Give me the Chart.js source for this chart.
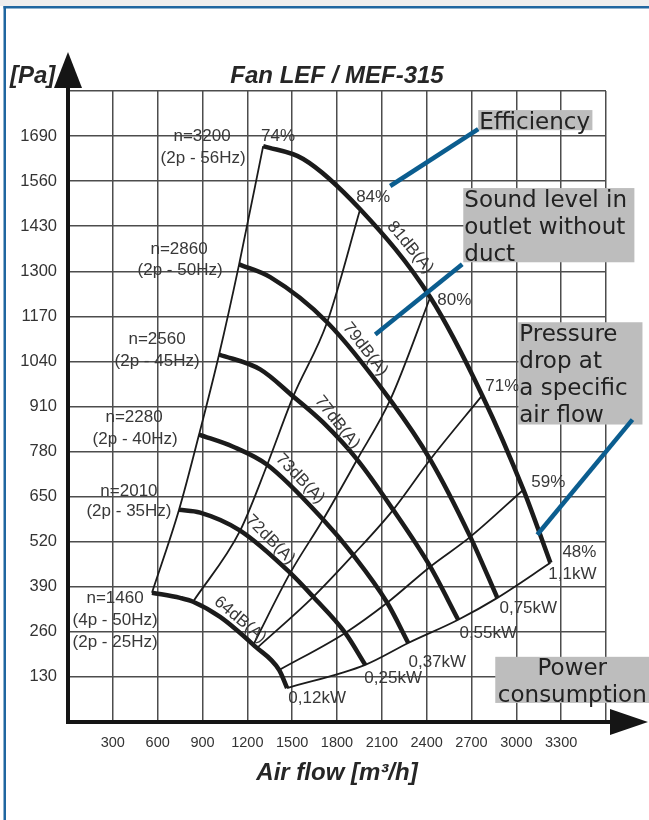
<!DOCTYPE html>
<html>
<head>
<meta charset="utf-8">
<title>Fan LEF / MEF-315</title>
<script src="https://cdn.jsdelivr.net/npm/chart.js@4.4.1/dist/chart.umd.min.js"></script>
<style>
  html, body { margin: 0; padding: 0; background: #fff; }
  canvas { display: block; }
</style>
</head>
<body>
<canvas id="fanChart" width="649" height="820"></canvas>
<script>
// axis ticks: air flow [m3/h] and pressure [Pa]
const flowTicks = [0, 300, 600, 900, 1200, 1500, 1800, 2100, 2400, 2700, 3000, 3300, 3600];
const pressTicks = [0, 130, 260, 390, 520, 650, 780, 910, 1040, 1170, 1300, 1430, 1560, 1690, 1820];

// fan curves per speed (air flow / pressure)
const flow3200 = [1306, 1574, 1955, 2424, 2772, 3047, 3228];
const pres3200 = [1661, 1624, 1479, 1225, 942, 670, 459];
const flow2860 = [1145, 1353, 1734, 2156, 2424, 2692, 2873];
const pres2860 = [1320, 1283, 1153, 929, 757, 534, 358];
const flow2560 = [1011, 1286, 1507, 1707, 1935, 2176, 2424, 2611];
const pres2560 = [1060, 1017, 939, 864, 757, 612, 448, 295];
const flow2280 = [877, 1105, 1333, 1707, 1908, 2136, 2277];
const pres2280 = [829, 794, 742, 584, 482, 344, 228];
const flow2010 = [743, 884, 1152, 1487, 1641, 1855, 1989];
const pres2010 = [612, 604, 552, 430, 361, 257, 165];
const flow1460 = [562, 750, 837, 1018, 1252, 1413, 1466];
const pres1460 = [373, 358, 347, 303, 218, 150, 98];

// efficiency lines
const flowEff74 = [562, 743, 877, 1011, 1145, 1306];
const presEff74 = [373, 612, 829, 1060, 1320, 1661];
const flowEff84 = [837, 1152, 1333, 1507, 1734, 1955];
const presEff84 = [347, 552, 742, 939, 1153, 1479];
const flowEff80 = [1239, 1487, 1707, 1935, 2156, 2424];
const presEff80 = [222, 430, 584, 757, 929, 1225];
const flowEff71 = [1266, 1641, 1908, 2176, 2424, 2772];
const presEff71 = [214, 361, 482, 612, 757, 942];
const flowEff59 = [1413, 1855, 2136, 2424, 2692, 3047];
const presEff59 = [150, 257, 344, 448, 534, 670];
const flowEff48 = [1466, 1989, 2277, 2611, 2873, 3228];
const presEff48 = [98, 165, 228, 295, 358, 459];

function pts(qs, ps) {
    return qs.map((q, i) => ({ x: q, y: ps[i] }));
}

const fanCurves = [
    [flow3200, pres3200], [flow2860, pres2860], [flow2560, pres2560],
    [flow2280, pres2280], [flow2010, pres2010], [flow1460, pres1460]
];
const effLines = [
    [flowEff74, presEff74], [flowEff84, presEff84], [flowEff80, presEff80],
    [flowEff71, presEff71], [flowEff59, presEff59], [flowEff48, presEff48]
];

// text on the curves, placed in data units
const curveLabels = [
    { t: 'n=3200', q: 897, p: 1690 }, { t: '(2p - 56Hz)', q: 904, p: 1627 },
    { t: 'n=2860', q: 743, p: 1364 }, { t: '(2p - 50Hz)', q: 750, p: 1303 },
    { t: 'n=2560', q: 596, p: 1104 }, { t: '(2p - 45Hz)', q: 596, p: 1040 },
    { t: 'n=2280', q: 442, p: 878 }, { t: '(2p - 40Hz)', q: 449, p: 815 },
    { t: 'n=2010', q: 408, p: 664 }, { t: '(2p - 35Hz)', q: 408, p: 607 },
    { t: 'n=1460', q: 315, p: 358 }, { t: '(4p - 50Hz)', q: 315, p: 292 },
    { t: '(2p - 25Hz)', q: 315, p: 231 },
    { t: '74%', q: 1406, p: 1690 }, { t: '84%', q: 2042, p: 1514 },
    { t: '80%', q: 2585, p: 1216 }, { t: '71%', q: 2906, p: 968 },
    { t: '59%', q: 3214, p: 690 }, { t: '48%', q: 3422, p: 488 },
    { t: '1,1kW', q: 3375, p: 425 }, { t: '0,75kW', q: 3080, p: 329 },
    { t: '0,55kW', q: 2812, p: 257 }, { t: '0,37kW', q: 2471, p: 173 },
    { t: '0,25kW', q: 2176, p: 127 }, { t: '0,12kW', q: 1667, p: 69 },
    { t: '81dB(A)', q: 2290, p: 1369, a: 50 },
    { t: '79dB(A)', q: 1989, p: 1075, a: 52 },
    { t: '77dB(A)', q: 1801, p: 864, a: 52 },
    { t: '73dB(A)', q: 1553, p: 702, a: 46 },
    { t: '72dB(A)', q: 1353, p: 526, a: 45 },
    { t: '64dB(A)', q: 1152, p: 295, a: 40 }
];

// grey callout boxes with blue leaders: box = [q1, p1, q2, p2]
const callouts = [
    { lines: ['Efficiency'], box: [2745, 1765, 3509, 1707], from: [2156, 1546], to: [2745, 1710] },
    { lines: ['Sound level in', 'outlet without', 'duct'], box: [2645, 1540, 3790, 1326], from: [2056, 1118], to: [2638, 1320] },
    { lines: ['Pressure', 'drop at', 'a specific', 'air flow'], box: [3013, 1153, 3844, 858], from: [3140, 540], to: [3777, 872] },
    { lines: ['Power', 'consumption'], box: [2859, 188, 3890, 55], center: true }
];

const decor = {
    id: 'decor',
    beforeDraw(chart) {
        const ctx = chart.ctx;
        ctx.save();
        ctx.fillStyle = '#ffffff';
        ctx.fillRect(0, 0, chart.width, chart.height);
        ctx.fillStyle = '#eeeeee';
        ctx.fillRect(0, 0, chart.width, 6);
        ctx.fillStyle = '#1f66a0';
        ctx.fillRect(3.5, 6, chart.width, 2.5);
        ctx.fillRect(3.5, 6, 2.5, chart.height);
        ctx.restore();
    },
    afterDatasetsDraw(chart) {
        const ctx = chart.ctx;
        const xs = chart.scales.x, ys = chart.scales.y;
        const X = v => xs.getPixelForValue(v);
        const Y = v => ys.getPixelForValue(v);
        ctx.save();

        // curve labels
        ctx.fillStyle = '#383838';
        ctx.font = '17px "Liberation Sans", Arial, sans-serif';
        ctx.textAlign = 'center';
        ctx.textBaseline = 'middle';
        curveLabels.forEach(l => {
            ctx.save();
            ctx.translate(X(l.q), Y(l.p));
            if (l.a) ctx.rotate(l.a * Math.PI / 180);
            ctx.fillText(l.t, 0, 0);
            ctx.restore();
        });

        // callouts
        callouts.forEach(c => {
            const x1 = X(c.box[0]), y1 = Y(c.box[1]);
            const x2 = X(c.box[2]), y2 = Y(c.box[3]);
            ctx.fillStyle = '#bdbdbd';
            ctx.fillRect(x1, y1, x2 - x1, y2 - y1);
            ctx.fillStyle = '#222222';
            ctx.font = '23px "DejaVu Sans", Verdana, sans-serif';
            ctx.textBaseline = 'alphabetic';
            ctx.textAlign = c.center ? 'center' : 'left';
            const tx = c.center ? (x1 + x2) / 2 : x1 + 1;
            c.lines.forEach((s, i) => ctx.fillText(s, tx, y1 + 18.5 + i * 27));
            if (c.from) {
                ctx.strokeStyle = '#0b5d8f';
                ctx.lineWidth = 4.5;
                ctx.beginPath();
                ctx.moveTo(X(c.from[0]), Y(c.from[1]));
                ctx.lineTo(X(c.to[0]), Y(c.to[1]));
                ctx.stroke();
            }
        });
        ctx.restore();
    },
    afterDraw(chart) {
        const ctx = chart.ctx;
        const { left, right, top, bottom } = chart.chartArea;
        ctx.save();
        ctx.fillStyle = '#151515';
        // x axis arrow
        ctx.fillRect(right, bottom - 2, 6, 4);
        ctx.beginPath();
        ctx.moveTo(right + 4, bottom - 13);
        ctx.lineTo(chart.width - 1, bottom);
        ctx.lineTo(right + 4, bottom + 13);
        ctx.closePath();
        ctx.fill();
        // y axis arrow
        ctx.fillRect(left - 2, top - 5, 4, 7);
        ctx.beginPath();
        ctx.moveTo(left - 14, top - 3);
        ctx.lineTo(left, top - 39);
        ctx.lineTo(left + 14, top - 3);
        ctx.closePath();
        ctx.fill();

        // titles
        ctx.fillStyle = '#262626';
        ctx.font = 'italic bold 24px "Liberation Sans", Arial, sans-serif';
        ctx.textBaseline = 'alphabetic';
        ctx.textAlign = 'center';
        ctx.fillText('Fan LEF / MEF-315', (left + right) / 2, 83);
        ctx.fillText('Air flow [m³/h]', (left + right) / 2, 780);
        ctx.textAlign = 'left';
        ctx.fillText('[Pa]', 10, 83);
        ctx.restore();
    }
};

const ctx = document.getElementById('fanChart').getContext('2d');
new Chart(ctx, {
    type: 'scatter',
    data: {
        datasets: [
            ...fanCurves.map(([q, p]) => ({
                data: pts(q, p),
                showLine: true,
                borderColor: '#1b1b1b',
                borderWidth: 4.5,
                pointRadius: 0,
                cubicInterpolationMode: 'monotone'
            })),
            ...effLines.map(([q, p]) => ({
                data: pts(q, p),
                showLine: true,
                borderColor: '#1b1b1b',
                borderWidth: 1.8,
                pointRadius: 0,
                cubicInterpolationMode: 'monotone'
            }))
        ]
    },
    options: {
        responsive: false,
        animation: false,
        events: [],
        layout: { padding: { left: 0, top: 91, right: 43, bottom: 38 } },
        plugins: {
            legend: { display: false },
            tooltip: { enabled: false }
        },
        scales: {
            x: {
                type: 'linear',
                min: 0,
                max: 3600,
                afterBuildTicks: s => { s.ticks = flowTicks.map(v => ({ value: v })); },
                afterFit: s => { s.height = 60; },
                ticks: {
                    color: '#333333',
                    font: { family: '"Liberation Sans", Arial, sans-serif', size: 14.5 },
                    padding: 12,
                    maxRotation: 0,
                    autoSkip: false,
                    callback: v => (v === 0 || v === 3600) ? '' : v
                },
                grid: { color: '#4d4d4d', lineWidth: 1.5, drawTicks: false },
                border: { color: '#151515', width: 4 }
            },
            y: {
                type: 'linear',
                min: 0,
                max: 1820,
                afterBuildTicks: s => { s.ticks = pressTicks.map(v => ({ value: v })); },
                afterFit: s => { s.width = 68; },
                ticks: {
                    color: '#333333',
                    font: { family: '"Liberation Sans", Arial, sans-serif', size: 16.5 },
                    padding: 11,
                    autoSkip: false,
                    callback: v => (v === 0 || v === 1820) ? '' : v
                },
                grid: { color: '#4d4d4d', lineWidth: 1.5, drawTicks: false },
                border: { color: '#151515', width: 4 }
            }
        }
    },
    plugins: [decor]
});
</script>
</body>
</html>
